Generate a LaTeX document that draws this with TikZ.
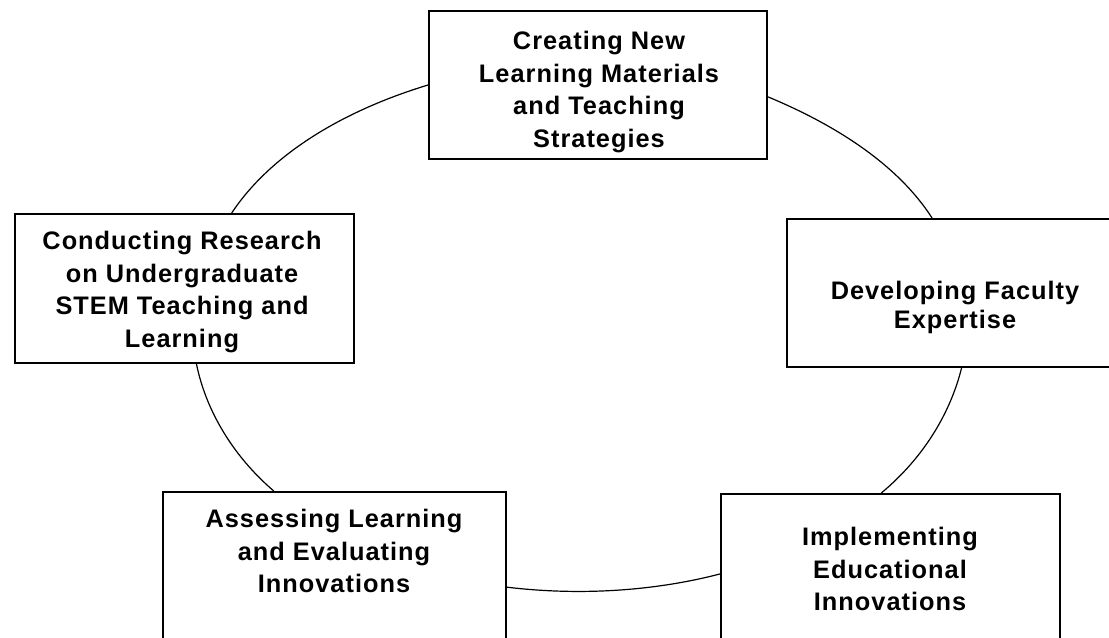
\documentclass[tikz,border=0pt]{standalone}
\usepackage{fontspec}
\setmainfont{Liberation Sans}
\newfontfamily\boxfont[LetterSpace=4]{Liberation Sans}
\begin{document}
\begin{tikzpicture}[x=0.75pt,y=-0.75pt,
  stagebox/.style={draw=black, line width=1.5pt, fill=white, inner sep=0pt, anchor=center},
  stagetext/.style={align=center, inner sep=0pt, anchor=north, text=black,
    font=\boxfont\bfseries\fontsize{19}{24.5}\selectfont},
  ring/.style={draw=black, line width=0.9pt}]
\useasboundingbox (0,0) rectangle (1109,638);
\clip (0,0) rectangle (1109,638);

% the five stages
\node[stagebox, minimum width=338*0.75pt, minimum height=148*0.75pt] (T)  at (598,85) {};
\node[stagebox, minimum width=336*0.75pt, minimum height=148*0.75pt] (R)  at (955,293) {};
\node[stagebox, minimum width=339*0.75pt, minimum height=149*0.75pt] (L)  at (184.5,288.5) {};
\node[stagebox, minimum width=343*0.75pt, minimum height=148*0.75pt] (BL) at (334.5,566) {};
\node[stagebox, minimum width=339*0.75pt, minimum height=148*0.75pt] (BR) at (890.5,568) {};

% labels
\node[stagetext] (Tt)  at (599,31)  {Creating New\\Learning Materials\\and Teaching\\Strategies};
\node[stagetext, font=\boxfont\bfseries\fontsize{19}{21.75}\selectfont] (Rt) at (955,281) {Developing Faculty\\Expertise};
\node[stagetext] (Lt)  at (182,231) {Conducting Research\\on Undergraduate\\STEM Teaching and\\Learning};
\node[stagetext] (BLt) at (334,509) {Assessing Learning\\and Evaluating\\Innovations};
\node[stagetext] (BRt) at (890,527) {Implementing\\Educational\\Innovations};

% elliptical ring joining the stages
\draw[ring] (T.west)  .. controls (342.2,111.1) and (270.6,154.5) .. (L.58);
\draw[ring] (L.-81)   .. controls (205.7,409.4) and (232.0,455.2) .. (BL.129);
\draw[ring] (BL.-7)   .. controls (577.9,595.7) and (652.7,591.5) .. (BR.182);
\draw[ring] (BR.97)   .. controls (923.6,457.8) and (950.3,413.1) .. (R.-85);
\draw[ring] (R.107)   .. controls (898.8,166.3) and (839.2,126.5) .. (T.-4);
\end{tikzpicture}
\end{document}
